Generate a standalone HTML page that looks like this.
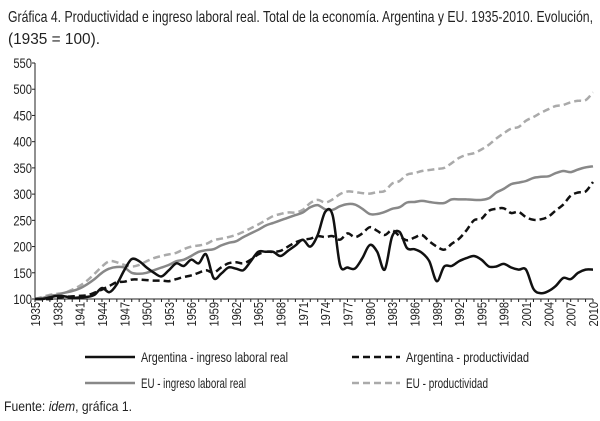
<!DOCTYPE html>
<html><head><meta charset="utf-8"><style>
html,body{margin:0;padding:0;background:#fff;}
svg{display:block;font-family:"Liberation Sans",sans-serif;}
</style></head><body>
<svg id="chart" width="600" height="421" viewBox="0 0 600 421">
<text x="8" y="22" font-size="16" textLength="585" lengthAdjust="spacingAndGlyphs" fill="#222">Gráfica 4. Productividad e ingreso laboral real. Total de la economía. Argentina y EU. 1935-2010. Evolución,</text>
<text x="8" y="44" font-size="16" textLength="92" lengthAdjust="spacingAndGlyphs" fill="#222">(1935 = 100).</text>
<g id="axes"></g>
<g id="series"></g>
<g id="legend">
<line x1="85" y1="357" x2="135" y2="357" stroke="#111" stroke-width="2.5"/>
<text x="141" y="362" font-size="14" textLength="147" lengthAdjust="spacingAndGlyphs" fill="#222">Argentina - ingreso laboral real</text>
<line x1="352" y1="357" x2="400" y2="357" stroke="#111" stroke-width="2.5" stroke-dasharray="7,4"/>
<text x="406" y="362" font-size="14" textLength="123" lengthAdjust="spacingAndGlyphs" fill="#222">Argentina - productividad</text>
<line x1="85" y1="383" x2="135" y2="383" stroke="#888" stroke-width="2.5"/>
<text x="141" y="388" font-size="14" textLength="105" lengthAdjust="spacingAndGlyphs" fill="#222">EU - ingreso laboral real</text>
<line x1="352" y1="383" x2="400" y2="383" stroke="#aaa" stroke-width="2.5" stroke-dasharray="7,4"/>
<text x="406" y="388" font-size="14" textLength="82" lengthAdjust="spacingAndGlyphs" fill="#222">EU - productividad</text>
</g>
<text x="4" y="411" font-size="14" textLength="128" lengthAdjust="spacingAndGlyphs" fill="#222">Fuente: <tspan font-style="italic">idem</tspan>, gráfica 1.</text>
</svg>
<script>
const years = [];
for (let y = 1935; y <= 2010; y++) years.push(y);
const yTicks = [100,150,200,250,300,350,400,450,500,550];
const xTickYears = [1935,1938,1941,1944,1947,1950,1953,1956,1959,1962,1965,1968,1971,1974,1977,1980,1983,1986,1989,1992,1995,1998,2001,2004,2007,2010];
const argIngreso = [100,100,103,106,105,102,103,104,108,121,113,128,155,176,172,160,150,143,155,168,163,175,168,185,140,148,160,158,155,172,190,190,190,182,192,202,213,200,222,266,260,165,160,158,178,203,190,156,219,228,197,195,188,172,134,162,163,172,178,182,175,162,162,167,160,156,156,119,111,115,125,140,138,150,156,156];
const argProd = [100,100,100,102,104,105,106,107,112,118,125,132,133,137,137,136,135,135,134,138,142,145,150,155,150,160,168,170,168,175,185,190,190,192,200,208,213,215,220,218,220,213,225,218,225,237,230,222,231,220,212,217,222,210,200,194,205,215,231,250,253,268,272,273,264,266,256,251,252,257,269,280,297,303,305,323];
const euIngreso = [100,102,106,108,112,115,120,128,138,150,158,161,160,150,148,150,155,160,165,172,175,182,190,193,195,202,207,210,218,225,232,240,245,250,255,260,265,275,279,271,270,277,281,280,272,262,262,266,272,275,284,285,287,285,283,283,290,290,290,289,289,292,303,310,319,322,325,331,333,334,340,344,342,347,351,353];
const euProd = [100,104,108,110,112,118,125,135,148,162,172,170,165,162,165,172,178,182,185,188,195,200,202,205,212,215,218,222,228,235,242,250,258,262,265,265,270,283,289,284,290,300,305,304,302,301,304,306,320,325,337,340,344,346,348,350,359,369,375,378,385,394,406,416,425,428,440,447,455,462,468,470,475,478,479,494];

const X0=35, X1=593, Y0=299, Y1=63;
const xs = yr => X0 + (yr-1935)*(X1-X0)/75;
const ys = v => Y0 - (v-100)*(Y0-Y1)/450;
const NS="http://www.w3.org/2000/svg";
const axes=document.getElementById('axes');
function mk(tag, attrs, parent){const e=document.createElementNS(NS,tag);for(const k in attrs)e.setAttribute(k,attrs[k]);parent.appendChild(e);return e;}
const yAxis=mk('line',{x1:X0,y1:Y1,x2:X0,y2:Y0,stroke:'#222','stroke-width':1},axes);


const xAxis=mk('line',{x1:X0,y1:Y0,x2:X1,y2:Y0,stroke:'#222','stroke-width':1},axes);


yTicks.forEach(v=>{
  mk('line',{x1:X0-3,y1:ys(v),x2:X0,y2:ys(v),stroke:'#222'},axes);
  const t=mk('text',{x:X0-3,y:ys(v)+5,'font-size':14,'text-anchor':'end',fill:'#222',transform:`translate(${X0-3},0) scale(0.8,1) translate(${-(X0-3)},0)`},axes);
  t.textContent=v;
  
  
});
years.forEach(yr=>{mk('line',{x1:xs(yr),y1:Y0,x2:xs(yr),y2:Y0+3,stroke:'#222'},axes);});
xTickYears.forEach(yr=>{
  const x=xs(yr)+5, y=Y0+3;
  const t=mk('text',{x:0,y:0,'font-size':13,'text-anchor':'end',fill:'#222',transform:`translate(${x},${y}) rotate(-90) scale(0.85,1)`},axes);
  t.textContent=yr;
  
  
});
function smooth(pts){
  let d=`M${pts[0][0]},${pts[0][1]}`;
  for(let i=0;i<pts.length-1;i++){
    const p0=pts[Math.max(0,i-1)],p1=pts[i],p2=pts[i+1],p3=pts[Math.min(pts.length-1,i+2)];
    const c1=[p1[0]+(p2[0]-p0[0])/6,p1[1]+(p2[1]-p0[1])/6];
    const c2=[p2[0]-(p3[0]-p1[0])/6,p2[1]-(p3[1]-p1[1])/6];
    d+=` C${c1[0].toFixed(1)},${c1[1].toFixed(1)} ${c2[0].toFixed(1)},${c2[1].toFixed(1)} ${p2[0].toFixed(1)},${p2[1].toFixed(1)}`;
  }
  return d;
}
const sg=document.getElementById('series');
function draw(data,color,dash,name){
  const p=mk('path',{d:smooth(data.map((v,i)=>[xs(years[i]),ys(v)])),fill:'none',stroke:color,'stroke-width':2.5,'stroke-linejoin':'round'},sg);
  if(dash)p.setAttribute('stroke-dasharray',dash);
  
  
}
draw(euProd,'#aaa','7,4','line-eu-productividad');
draw(euIngreso,'#888',null,'line-eu-ingreso');
draw(argProd,'#111','7,4','line-argentina-productividad');
draw(argIngreso,'#111',null,'line-argentina-ingreso');
</script>
</body></html>
